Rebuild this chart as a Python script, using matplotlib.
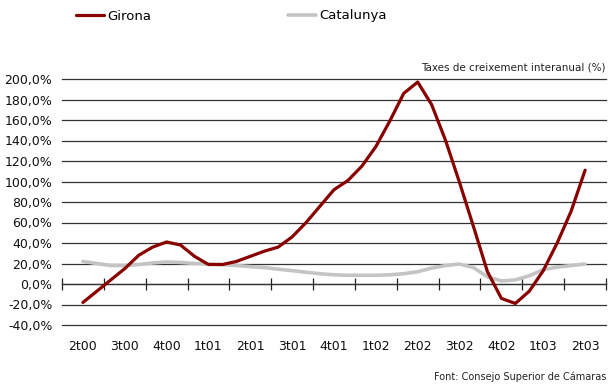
import numpy as np
import matplotlib
matplotlib.use("Agg")
import matplotlib.pyplot as plt
from matplotlib.ticker import FixedLocator, FuncFormatter

# Quarter labels (one category per quarter, monthly readings inside each)
quarters = ["2t00", "3t00", "4t00", "1t01", "2t01", "3t01", "4t01",
            "1t02", "2t02", "3t02", "4t02", "1t03", "2t03"]

# Monthly year-on-year growth rates (%), from 2t00 to 2t03
girona = [-18, -7, 4, 15, 28, 36, 41, 38, 27, 19,
          19, 22, 27, 32, 36, 46, 60, 76, 92, 101,
          115, 134, 159, 186, 197, 175, 140, 99, 56, 12,
          -14, -19, -7, 13, 40, 71, 111]
catalunya = [22, 20, 18, 18, 19, 20.5, 21.5, 21, 20, 19.5,
             19, 18, 17, 16, 14.5, 13, 11.5, 10, 9, 8.5,
             8.5, 8.5, 9, 10, 12, 15.5, 18, 19.5, 16, 7,
             3, 4, 8, 14, 16.5, 18, 19.5]

months = np.arange(len(girona)) / 3.0  # position in quarter units

fig = plt.figure(figsize=(6.08, 3.85), dpi=100)
ax = fig.add_axes([62 / 608, 1 - 325 / 385, 544 / 608, 246 / 385])

for y in range(-40, 201, 20):
    ax.axhline(y, color="#333333", lw=0.9, zorder=1, clip_on=False)

ax.plot(months, catalunya, color="#c4c4c4", lw=2.6, label="Catalunya",
        solid_capstyle="round", zorder=3)
ax.plot(months, girona, color="#880000", lw=2.3, label="Girona",
        solid_capstyle="round", zorder=4)

ax.set_xlim(-0.5, len(quarters) - 0.5)
ax.set_ylim(-40, 200)

for side in ("left", "right", "top"):
    ax.spines[side].set_visible(False)
ax.spines["bottom"].set_position(("data", 0))
ax.spines["bottom"].set_color("#333333")
ax.spines["bottom"].set_linewidth(0.9)

ax.xaxis.set_major_locator(FixedLocator(range(len(quarters))))
ax.set_xticklabels(quarters)
ax.xaxis.set_minor_locator(FixedLocator(np.arange(len(quarters) + 1) - 0.5))
ax.tick_params(axis="x", which="major", length=0, pad=40, labelsize=9,
               labelcolor="#111111")
ax.tick_params(axis="x", which="minor", direction="inout", length=8,
               width=0.9, color="#222222")

ax.set_yticks(range(-40, 201, 20))
ax.yaxis.set_major_formatter(
    FuncFormatter(lambda v, _: f"{v:.1f}%".replace(".", ",")))
ax.tick_params(axis="y", length=0, pad=7, labelsize=9, labelcolor="#111111")

handles, labels = ax.get_legend_handles_labels()
fig.legend(handles[::-1], labels[::-1], ncol=2, frameon=False,
           loc="center left", bbox_to_anchor=(64 / 608, 1 - 16 / 385),
           fontsize=9.5, handlelength=2.1, handletextpad=0.25,
           columnspacing=10.4)

fig.text(606 / 608, 1 - 68 / 385, "Taxes de creixement interanual (%)",
         fontsize=7.5, color="#222222", va="center", ha="right")
fig.text(606 / 608, 1 - 377 / 385, "Font: Consejo Superior de Cámaras",
         fontsize=7, color="#222222", va="center", ha="right")

fig.savefig("out.png", dpi=100)
